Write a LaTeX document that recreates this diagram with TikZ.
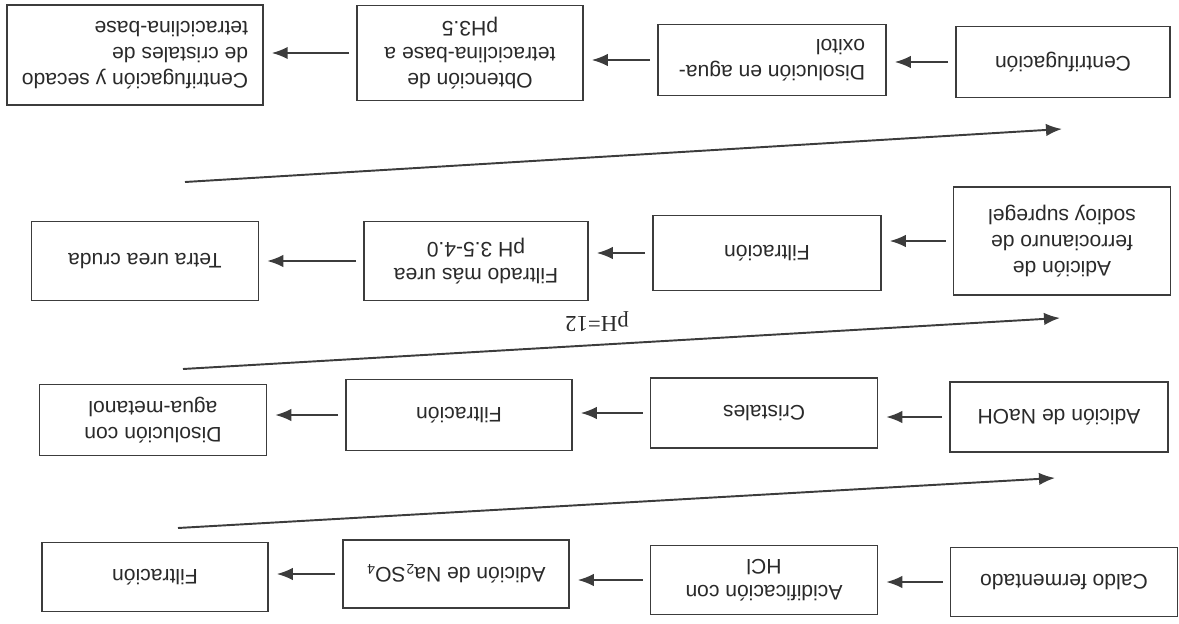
\documentclass[tikz,border=0pt]{standalone}
\usepackage{fontspec}
\setmainfont{Liberation Sans}
\newfontfamily\phfont{Liberation Serif}
\usetikzlibrary{arrows.meta}

\definecolor{linegray}{HTML}{3C3C3C}
\definecolor{textgray}{HTML}{2A2A2A}

\tikzset{
	box/.style={draw=linegray, line width=0.9pt, minimum width=4.54cm, minimum height=1.4cm,
		align=center, text=textgray, font=\fontsize{12}{14.8}\selectfont},
	arr/.style={-{Latex[length=3.2mm,width=2.5mm]}, line width=1.1pt, draw=linegray,
		shorten <=0.14cm, shorten >=0.16cm},
}

\begin{document}
\begin{tikzpicture}[x=0.02cm, y=-0.02cm, rotate=180, transform shape]
	
	\useasboundingbox (0,0) rectangle (1179,623);
	
	%--- fila 1 ---
	\node[box, minimum height=1.38cm] (caldo) at (115,41) {Caldo fermentado};
	\node[box, minimum height=1.38cm] (acid) at (415,43) {Acidificación con\\HCl};
	\node[box, minimum width=4.52cm, minimum height=1.36cm] (sulf) at (723,49) {Adición de Na\textsubscript{2}SO\textsubscript{4}};
	\node[box, minimum width=4.52cm, minimum height=1.38cm] (filt1) at (1024,46) {Filtración};
	
	\draw[arr] (caldo.east) -- (caldo.east -| acid.west);
	\draw[arr] (acid.east) -- (acid.east -| sulf.west);
	\draw[arr] (sulf.east) -- (sulf.east -| filt1.west);
	
	% vuelta a la fila 2
	\coordinate (v1a) at (1001,95);
	\coordinate (v1b) at (124,145);
	\draw[arr, shorten <=0pt, shorten >=0pt] (v1a) -- (v1b);
	
	%--- fila 2 ---
	\node[box, minimum width=4.36cm] (naoh) at (120,206) {Adición de NaOH};
	\node[box] (crist) at (415,210) {Cristales};
	\node[box, minimum width=4.52cm, minimum height=1.42cm] (filt2) at (720,208) {Filtración};
	\node[box, minimum height=1.42cm] (metanol) at (1026,203) {Disolución con\\agua-metanol};
	
	\draw[arr] (naoh.east) -- (naoh.east -| crist.west);
	\draw[arr] (crist.east) -- (crist.east -| filt2.west);
	\draw[arr] (filt2.east) -- (filt2.east -| metanol.west);
	
	% vuelta a la fila 3 (pH=12)
	\coordinate (v2a) at (996,254);
	\coordinate (v2b) at (119,305);
	\draw[arr, shorten <=0pt, shorten >=0pt] (v2a) -- (v2b);
	\node[text=textgray, font=\phfont\fontsize{13}{15}\selectfont] (ph) at (582,301) {pH=12};
	
	%--- fila 3 ---
	\node[box, minimum width=4.34cm, minimum height=2.16cm] (ferro) at (117,382) {Adición de\\ferrocianuro de\\sodioy supregel};
	\node[box, minimum width=4.56cm, minimum height=1.5cm] (filt3) at (412,370) {Filtración};
	\node[box, minimum width=4.48cm, minimum height=1.58cm] (urea) at (703,362) {Filtrado más urea\\pH 3.5-4.0};
	\node[box, minimum height=1.58cm] (cruda) at (1034,362) {Tetra urea cruda};
	
	\draw[arr] (ferro.east) -- (ferro.east -| filt3.west);
	\draw[arr] (filt3.east) -- (filt3.east -| urea.west);
	\draw[arr] (urea.east) -- (urea.east -| cruda.west);
	
	% vuelta a la fila 4
	\coordinate (v3a) at (994,441);
	\coordinate (v3b) at (117,494);
	\draw[arr, shorten <=0pt, shorten >=0pt] (v3a) -- (v3b);
	
	%--- fila 4 ---
	\node[box, minimum width=4.28cm, minimum height=1.42cm] (centri) at (116,561) {Centrifugación};
	\node[box, minimum width=4.56cm, minimum height=1.42cm, align=left] (oxitol) at (407,563) {Disolución en agua-\\oxitol};
	\node[box, minimum width=4.52cm, minimum height=1.9cm] (obten) at (709,570) {Obtención de\\tetraciclina-base a\\pH3.5};
	\node[box, minimum width=5.12cm, minimum height=2cm, align=left] (secado) at (1044,568) {Centrifugación y secado\\de cristales de\\tetraciclina-base};
	
	\draw[arr] (centri.east) -- (centri.east -| oxitol.west);
	\draw[arr] (oxitol.east) -- (oxitol.east -| obten.west);
	\draw[arr] (obten.east) -- (obten.east -| secado.west);
	
\end{tikzpicture}
\end{document}
